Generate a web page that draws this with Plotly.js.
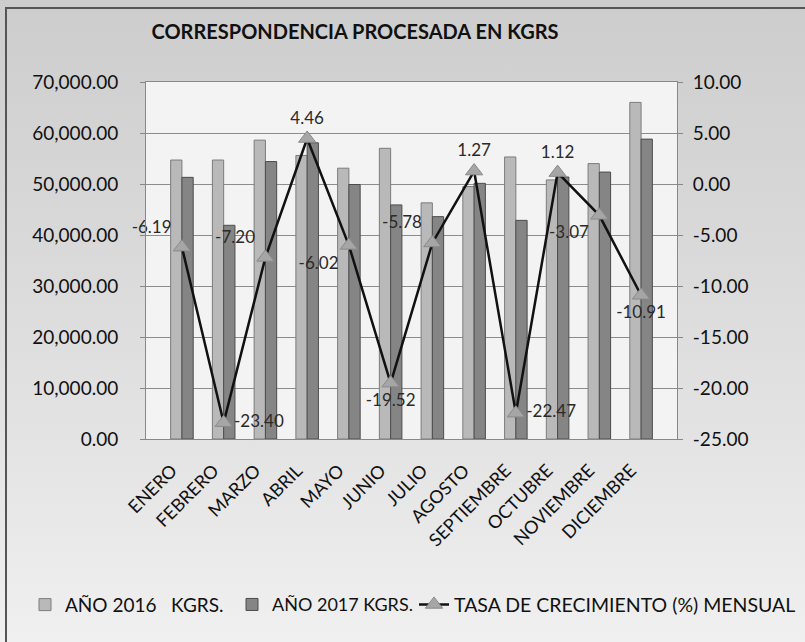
<!DOCTYPE html>
<html>
<head>
<meta charset="utf-8">
<script src="https://cdn.plot.ly/plotly-3.0.1.min.js"></script>
<style>
html,body{margin:0;padding:0;background:#fff;}
#frame{position:absolute;left:0;top:0;width:805px;height:642px;
 background:linear-gradient(180deg,#cdcdcd 0%,#d8d8d8 35%,#e4e4e4 70%,#f0f0f0 100%);}
#border{position:absolute;left:5px;top:7px;width:805px;height:640px;border-left:2px solid #555;border-top:2px solid #555;box-sizing:border-box;pointer-events:none;}
#chart{position:absolute;left:0;top:0;width:805px;height:642px;}
</style>
</head>
<body>
<div id="frame"></div>
<div id="chart"></div>
<div id="border"></div>
<script>
var months = ["ENERO","FEBRERO","MARZO","ABRIL","MAYO","JUNIO","JULIO","AGOSTO","SEPTIEMBRE","OCTUBRE","NOVIEMBRE","DICIEMBRE"];
var kg2016 = [54700, 54700, 58600, 55600, 53100, 57000, 46300, 49500, 55300, 50800, 54000, 66000];
var kg2017 = [51300, 41900, 54400, 58080, 49900, 45900, 43600, 50130, 42870, 51370, 52340, 58800];
var growth = [-6.19, -23.40, -7.20, 4.46, -6.02, -19.52, -5.78, 1.27, -22.47, 1.12, -3.07, -10.91];
var growthLabels = ["-6.19","-23.40","-7.20","4.46","-6.02","-19.52","-5.78","1.27","-22.47","1.12","-3.07","-10.91"];
var labelPos = ["top left","middle right","top left","top center","bottom left","bottom center","top left","top center","middle right","top center","bottom left","bottom center"];
var leftTicks = [0,10000,20000,30000,40000,50000,60000,70000];
var leftTickText = ["0.00","10,000.00","20,000.00","30,000.00","40,000.00","50,000.00","60,000.00","70,000.00"];
var rightTicks = [-25,-20,-15,-10,-5,0,5,10];
var rightTickText = ["-25.00","-20.00","-15.00","-10.00","-5.00","0.00","5.00","10.00"];

var fontFam = "Lato, 'Open Sans', sans-serif";

var traces = [
 {type:"bar", name:"AÑO 2016   KGRS.", x:months, y:kg2016, legend:"legend",
  marker:{color:"#b9b9b9", line:{color:"#7c7c7c", width:1}}},
 {type:"bar", name:"AÑO 2017 KGRS.", x:months, y:kg2017, legend:"legend2",
  marker:{color:"#858585", line:{color:"#4c4c4c", width:1}}},
 {type:"scatter", mode:"lines+markers+text", name:"TASA DE CRECIMIENTO (%) MENSUAL", legend:"legend3",
  x:months, y:growth, yaxis:"y2", text:growthLabels, textposition:labelPos,
  textfont:{family:fontFam, size:17, color:"#2a2a2a"},
  line:{color:"#111", width:2.5},
  marker:{symbol:"triangle-up", size:15, color:"#a6a6a6", line:{color:"#8a8a8a", width:1}},
  cliponaxis:false}
];

function leg(x, size){
 return {orientation:"h", xref:"container", yref:"container", x:x, xanchor:"left",
   y:0.058, yanchor:"middle", font:{family:fontFam, size:size, color:"#111"},
   bgcolor:"rgba(0,0,0,0)", borderwidth:0};
}

var layout = {
 width:805, height:642,
 paper_bgcolor:"rgba(0,0,0,0)",
 plot_bgcolor:"#f3f3f3",
 margin:{l:146, r:128, t:82, b:203},
 barmode:"group", bargap:0.46, bargroupgap:0.0,
 title:{text:"<b>CORRESPONDENCIA PROCESADA EN KGRS</b>", xref:"container", yref:"container",
   x:0.441, xanchor:"center", y:0.95, yanchor:"middle",
   font:{family:fontFam, size:20, color:"#111"}},
 showlegend:true,
 legend:leg(25/805, 19), legend2:leg(232/805, 18), legend3:leg(414/805, 19.5),
 xaxis:{type:"category", tickangle:-45, tickfont:{family:fontFam, size:18, color:"#111"},
   showline:true, linecolor:"#888", mirror:true, ticks:"", showgrid:false,
   ticklabelstandoff:13, ticklabelshift:-10},
 yaxis:{range:[0,70000], tickvals:leftTicks, ticktext:leftTickText,
   tickfont:{family:fontFam, size:19, color:"#111"}, showgrid:true, gridcolor:"#8c8c8c",
   gridwidth:1, showline:true, linecolor:"#888", zeroline:false,
   ticks:"outside", ticklen:5, tickcolor:"#888", ticklabelstandoff:18},
 yaxis2:{range:[-25,10], tickvals:rightTicks, ticktext:rightTickText, overlaying:"y", side:"right",
   tickfont:{family:fontFam, size:19, color:"#111"}, showgrid:false, zeroline:false,
   showline:true, linecolor:"#888", ticks:"outside", ticklen:5, tickcolor:"#888", ticklabelstandoff:6}
};

Plotly.newPlot("chart", traces, layout, {displayModeBar:false, staticPlot:true});
</script>
</body>
</html>
